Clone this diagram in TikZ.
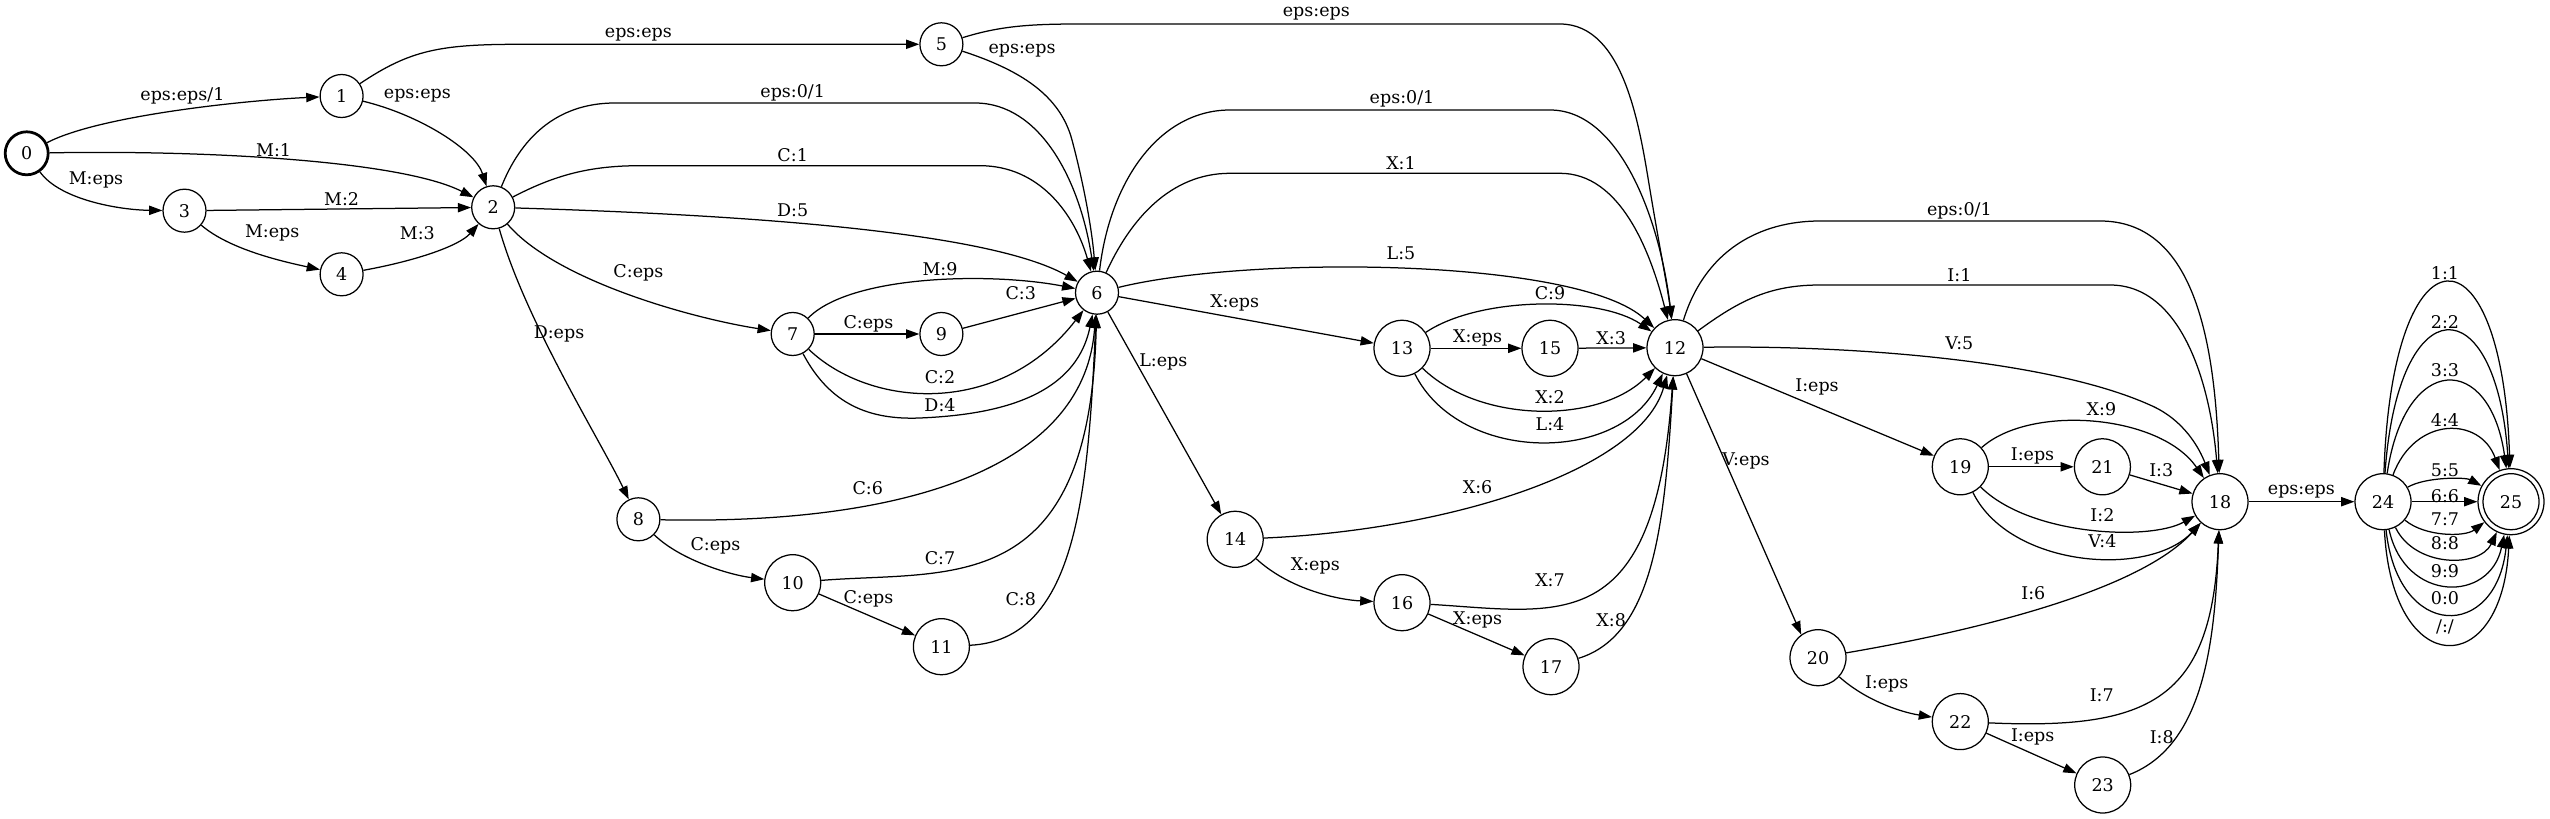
\documentclass[tikz,border=0pt]{standalone}
\usepackage{fontspec}
\setmainfont{DejaVu Serif}
\usetikzlibrary{arrows.meta}
\begin{document}
\begin{tikzpicture}[x=0.8pt,y=-0.8pt,
  sn/.style={circle, draw, line width=1pt, inner sep=0pt, minimum size=34.4pt, font=\fontsize{14}{16}\selectfont},
  snw/.style={sn, minimum size=44.8pt},
  lbl/.style={inner sep=0pt, font=\fontsize{14}{16}\selectfont},
  tr/.style={-{Triangle[length=10.6pt,width=7.4pt]}, line width=1pt}]
\useasboundingbox (0,0) rectangle (2550,819);
% states
\node[sn, line width=2.2pt] (n0) at (26.7,153.3) {0};
\node[sn] (n1) at (341.6,96) {1};
\node[sn] (n2) at (493.2,207.3) {2};
\node[sn] (n3) at (184.5,210.7) {3};
\node[sn] (n4) at (341.6,274.3) {4};
\node[sn] (n5) at (941.4,44.3) {5};
\node[sn] (n6) at (1097,292.7) {6};
\node[sn] (n7) at (792.7,334) {7};
\node[sn] (n9) at (941.4,334) {9};
\node[sn] (n8) at (638.4,519.3) {8};
\node[snw] (n10) at (792.7,582.7) {10};
\node[snw] (n11) at (941.4,646.7) {11};
\node[snw] (n13) at (1402,348.3) {13};
\node[snw] (n15) at (1550,348.3) {15};
\node[snw] (n12) at (1675,347.7) {12};
\node[snw] (n14) at (1235.2,539.3) {14};
\node[snw] (n16) at (1402,602.7) {16};
\node[snw] (n17) at (1551,666.7) {17};
\node[snw] (n20) at (1818,657.7) {20};
\node[snw] (n19) at (1960.3,466.8) {19};
\node[snw] (n21) at (2102.4,466.8) {21};
\node[snw] (n18) at (2220,501.7) {18};
\node[snw] (n22) at (1960.3,721.6) {22};
\node[snw] (n23) at (2102.7,785) {23};
\node[snw] (n24) at (2383,501.7) {24};
\node[snw, minimum size=52.8pt] (n25) at (2511,501.7) {25};
\draw[line width=1pt] (n25.center) circle[radius=22.4pt];
% edges
\draw[tr] (n0) .. controls (100,115) and (250,100) .. (n1);
\draw[tr] (n0) .. controls (200,150) and (400,160) .. (n2);
\draw[tr] (n0) .. controls (60,200) and (120,210) .. (n3);
\draw[tr] (n1) .. controls (410,50) and (440,44.3) .. (520,44.3) -- (n5);
\draw[tr] (n1) .. controls (420,115) and (475,150) .. (n2);
\draw[tr] (n3) -- (n2);
\draw[tr] (n3) .. controls (230,250) and (285,262) .. (n4);
\draw[tr] (n4) .. controls (420,260) and (460,245) .. (n2);
\draw[tr] (n5) .. controls (1000,26) and (1030,24) .. (1080,24) -- (1560,24) .. controls (1625,24) and (1640,130) .. (1650,190) .. controls (1660,250) and (1668,290) .. (n12);
\draw[tr] (n5) .. controls (1020,70) and (1060,95) .. (1072,140) .. controls (1084,185) and (1092,230) .. (n6);
\draw[tr] (n2) .. controls (520,140) and (555,103) .. (615,103) -- (975,103) .. controls (1040,103) and (1080,180) .. (n6);
\draw[tr] (n2) .. controls (555,175) and (590,165.7) .. (640,165.7) -- (980,165.7) .. controls (1040,165.7) and (1075,215) .. (n6);
\draw[tr] (n2) .. controls (750,215) and (990,232) .. (n6);
\draw[tr] (n2) .. controls (555,280) and (690,318) .. (n7);
\draw[tr] (n2) .. controls (525,320) and (600,440) .. (n8);
\draw[tr] (n7) .. controls (850,275) and (990,272) .. (n6);
\draw[tr] (n7) -- (n9);
\draw[tr] (n9) -- (n6);
\draw[tr] (n7) .. controls (870,408) and (1000,418) .. (n6);
\draw[tr] (n7) .. controls (830,405) and (870,420) .. (920,418) .. controls (990,415) and (1075,400) .. (n6);
\draw[tr] (n8) .. controls (900,525) and (1085,470) .. (n6);
\draw[tr] (n8) .. controls (680,560) and (730,575) .. (n10);
\draw[tr] (n10) .. controls (950,570) and (1090,600) .. (n6);
\draw[tr] (n10) -- (n11);
\draw[tr] (n11) .. controls (1075,640) and (1088,500) .. (n6);
\draw[tr] (n6) .. controls (1110,180) and (1160,110) .. (1230,110) -- (1550,110) .. controls (1620,110) and (1660,220) .. (n12);
\draw[tr] (n6) .. controls (1130,220) and (1170,173.3) .. (1230,173.3) -- (1560,173.3) .. controls (1620,173.3) and (1650,250) .. (n12);
\draw[tr] (n6) .. controls (1250,255) and (1580,258) .. (n12);
\draw[tr] (n6) -- (n13);
\draw[tr] (n6) -- (n14);
\draw[tr] (n13) .. controls (1480,296) and (1600,296) .. (n12);
\draw[tr] (n13) -- (n15);
\draw[tr] (n15) -- (n12);
\draw[tr] (n13) .. controls (1480,424) and (1600,424) .. (n12);
\draw[tr] (n13) .. controls (1460,464) and (1620,464) .. (n12);
\draw[tr] (n14) .. controls (1450,530) and (1640,470) .. (n12);
\draw[tr] (n14) .. controls (1290,590) and (1340,600) .. (n16);
\draw[tr] (n16) .. controls (1560,612) and (1655,640) .. (n12);
\draw[tr] (n16) -- (n17);
\draw[tr] (n17) .. controls (1655,635) and (1665,520) .. (n12);
\draw[tr] (n12) .. controls (1705,250) and (1760,221) .. (1820,221) -- (2100,221) .. controls (2190,221) and (2215,330) .. (n18);
\draw[tr] (n12) .. controls (1740,300) and (1770,285) .. (1820,285) -- (2110,285) .. controls (2180,285) and (2210,380) .. (n18);
\draw[tr] (n12) .. controls (1850,345) and (2050,360) .. (2150,405) .. controls (2185,420) and (2200,450) .. (n18);
\draw[tr] (n12) -- (n19);
\draw[tr] (n12.-66) -- (n20.126);
\draw[tr] (n19) .. controls (2030,404) and (2160,414) .. (n18);
\draw[tr] (n19) -- (n21);
\draw[tr] (n21) -- (n18);
\draw[tr] (n19) .. controls (2030,536) and (2150,541) .. (n18);
\draw[tr] (n19) .. controls (2010,568) and (2150,578) .. (n18);
\draw[tr] (n20) .. controls (1980,630) and (2140,590) .. (n18);
\draw[tr] (n20) .. controls (1865,700) and (1900,712) .. (n22);
\draw[tr] (n22) .. controls (2150,730) and (2212,700) .. (n18);
\draw[tr] (n22) -- (n23);
\draw[tr] (n23) .. controls (2205,745) and (2215,640) .. (n18);
\draw[tr] (n18) -- (n24);
\draw[tr] (n24) .. controls (2392,220) and (2502,220) .. (n25);
\draw[tr] (n24) .. controls (2398,285) and (2496,285) .. (n25);
\draw[tr] (n24) .. controls (2405,352) and (2490,352) .. (n25);
\draw[tr] (n24) .. controls (2415,416) and (2480,416) .. (n25);
\draw[tr] (n24) .. controls (2425,477) and (2465,477) .. (n25);
\draw[tr] (n24) -- (n25);
\draw[tr] (n24) .. controls (2425,537) and (2465,537) .. (n25);
\draw[tr] (n24) .. controls (2415,568) and (2480,568) .. (n25);
\draw[tr] (n24) .. controls (2405,603) and (2490,603) .. (n25);
\draw[tr] (n24) .. controls (2398,641) and (2496,641) .. (n25);
\draw[tr] (n24) .. controls (2392,681) and (2502,681) .. (n25);
% labels
\node[lbl] (l01) at (182.4,96) {eps:eps/1};
\node[lbl] (l02) at (273.6,150) {M:1};
\node[lbl] (l03) at (96,180) {M:eps};
\node[lbl] (l15) at (638.4,34.3) {eps:eps};
\node[lbl] (l12) at (417.4,95.7) {eps:eps};
\node[lbl] (l32) at (341.6,199.3) {M:2};
\node[lbl] (l34) at (272.2,233.3) {M:eps};
\node[lbl] (l42) at (417.4,233.3) {M:3};
\node[lbl] (l512) at (1316.3,13.3) {eps:eps};
\node[lbl] (l56) at (1022,51) {eps:eps};
\node[lbl] (l26a) at (792.7,93.3) {eps:0/1};
\node[lbl] (l26b) at (792.7,155) {C:1};
\node[lbl] (l26c) at (792.7,210.7) {D:5};
\node[lbl] (l27) at (638.4,272.7) {C:eps};
\node[lbl] (l28) at (559,334.3) {D:eps};
\node[lbl] (l76a) at (940,269.3) {M:9};
\node[lbl] (l79) at (868.5,324.3) {C:eps};
\node[lbl] (l96) at (1020.7,293.3) {C:3};
\node[lbl] (l76b) at (940,376.7) {C:2};
\node[lbl] (l76c) at (940,405) {D:4};
\node[lbl] (l86) at (867.8,488.3) {C:6};
\node[lbl] (l810) at (715.5,545.7) {C:eps};
\node[lbl] (l106) at (940,558.3) {C:7};
\node[lbl] (l1011) at (868.5,599.3) {C:eps};
\node[lbl] (l116) at (1020.7,599.3) {C:8};
\node[lbl] (l612a) at (1402,99.3) {eps:0/1};
\node[lbl] (l612b) at (1401,163.3) {X:1};
\node[lbl] (l612c) at (1401,253.3) {L:5};
\node[lbl] (l613) at (1234.7,303.3) {X:eps};
\node[lbl] (l614) at (1163.3,361.7) {L:eps};
\node[lbl] (l1312a) at (1550,293.3) {C:9};
\node[lbl] (l1315) at (1477.6,338.3) {X:eps};
\node[lbl] (l1512) at (1611.2,338.3) {X:3};
\node[lbl] (l1312b) at (1550,396.7) {X:2};
\node[lbl] (l1312c) at (1550,424) {L:4};
\node[lbl] (l1412) at (1477.6,486.7) {X:6};
\node[lbl] (l1416) at (1315.3,565.7) {X:eps};
\node[lbl] (l1612) at (1550,580.7) {X:7};
\node[lbl] (l1617) at (1477.6,620) {X:eps};
\node[lbl] (l1712) at (1611.2,620) {X:8};
\node[lbl] (l1218a) at (1959.4,210.7) {eps:0/1};
\node[lbl] (l1218b) at (1959.4,275) {I:1};
\node[lbl] (l1218c) at (1959.4,343.3) {V:5};
\node[lbl] (l1219) at (1817,386.7) {I:eps};
\node[lbl] (l1220) at (1746,460.7) {V:eps};
\node[lbl] (l1918a) at (2101.4,409) {X:9};
\node[lbl] (l1921) at (2032.5,456) {I:eps};
\node[lbl] (l2118) at (2161.2,470) {I:3};
\node[lbl] (l1918b) at (2102.4,515) {I:2};
\node[lbl] (l1918c) at (2102.4,541) {V:4};
\node[lbl] (l2018) at (2033.3,593.3) {I:6};
\node[lbl] (l2022) at (1886.7,684.3) {I:eps};
\node[lbl] (l2218) at (2101.7,695.7) {I:7};
\node[lbl] (l2223) at (2032.7,737.3) {I:eps};
\node[lbl] (l2318) at (2161.7,737.3) {I:8};
\node[lbl] (l1824) at (2301.4,491.3) {eps:eps};
\node[lbl] (la1) at (2445,272.7) {1:1};
\node[lbl] (la2) at (2445,321.7) {2:2};
\node[lbl] (la3) at (2445,370) {3:3};
\node[lbl] (la4) at (2445,420) {4:4};
\node[lbl] (la5) at (2445,470) {5:5};
\node[lbl] (la6) at (2445,496) {6:6};
\node[lbl] (la7) at (2445,519.3) {7:7};
\node[lbl] (la8) at (2445,543.3) {8:8};
\node[lbl] (la9) at (2445,570.7) {9:9};
\node[lbl] (la0) at (2445,598.3) {0:0};
\node[lbl] (las) at (2445,626.7) {/:/};
\end{tikzpicture}
\end{document}
